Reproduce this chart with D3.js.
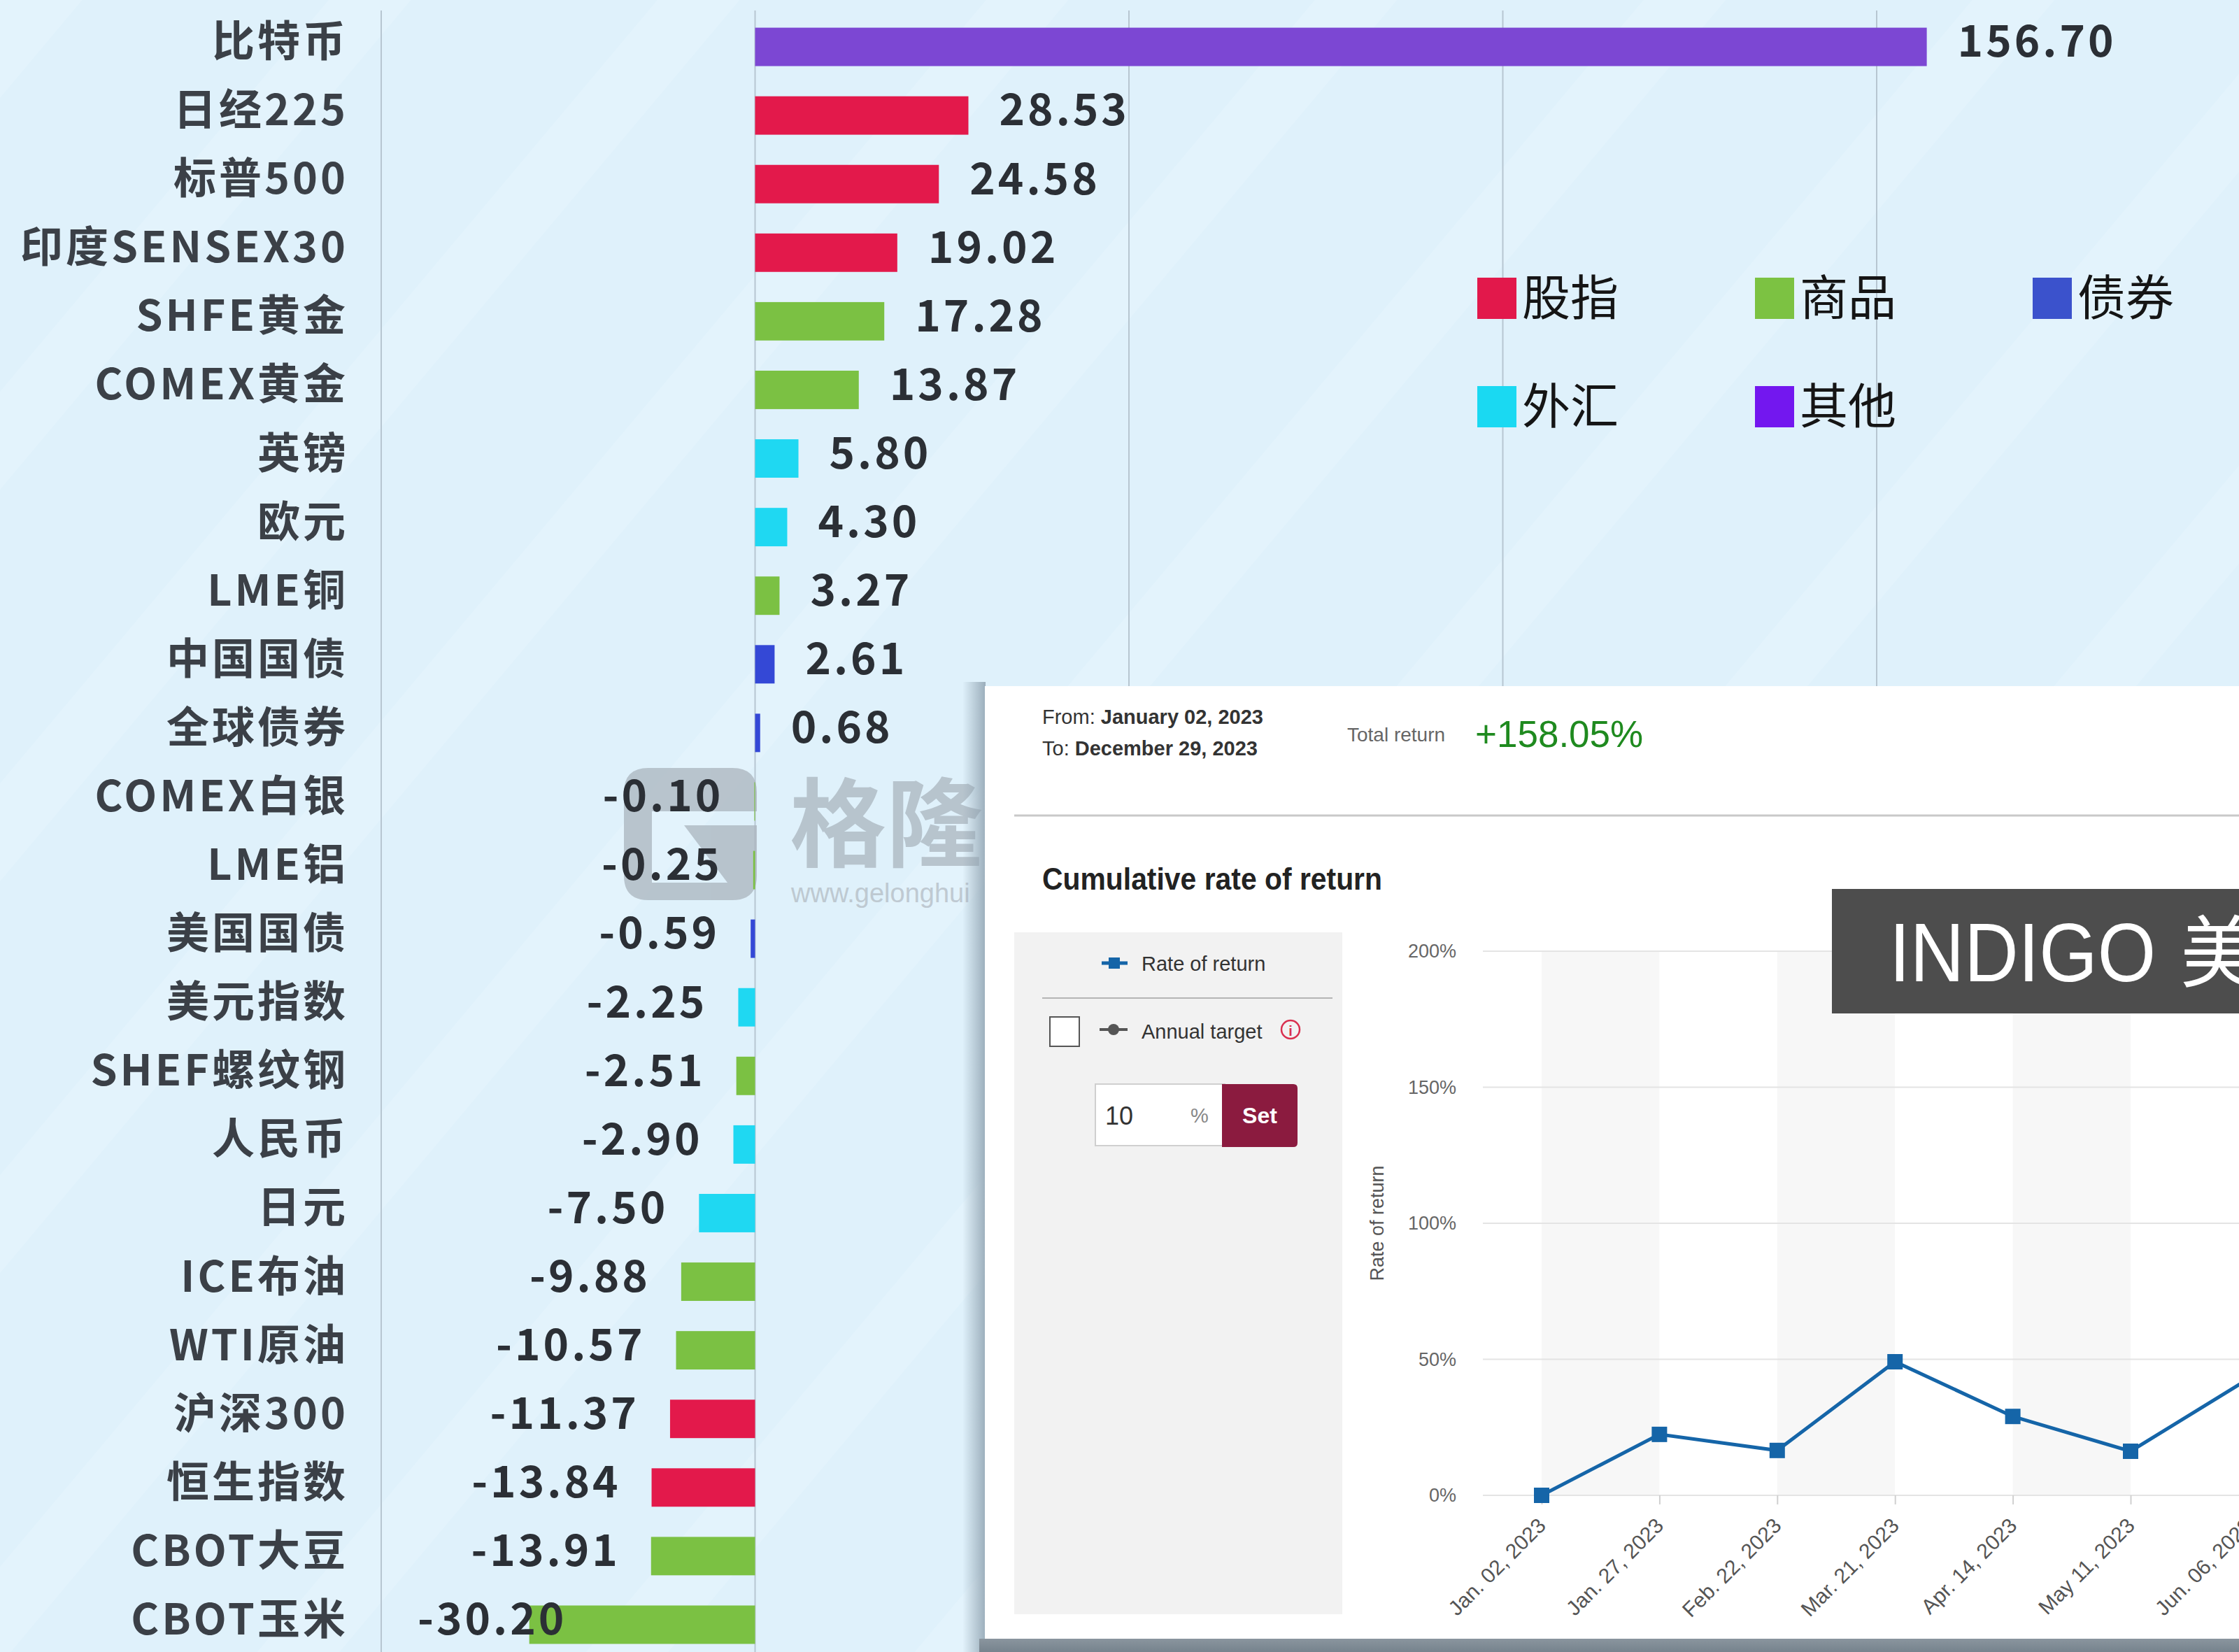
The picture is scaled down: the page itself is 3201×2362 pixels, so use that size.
<!DOCTYPE html>
<html>
<head>
<meta charset="utf-8">
<script src="https://cdn.jsdelivr.net/npm/d3@7"></script>
<style>
  body { margin: 0; background: #dff2fc; }
  svg { display: block; }
</style>
</head>
<body>
<svg width="3201" height="2362"></svg>
<script>
// bar chart data (2023 returns, %)
const names = ["比特币","日经225","标普500","印度SENSEX30","SHFE黄金","COMEX黄金","英镑","欧元","LME铜","中国国债","全球债券","COMEX白银","LME铝","美国国债","美元指数","SHEF螺纹钢","人民币","日元","ICE布油","WTI原油","沪深300","恒生指数","CBOT大豆","CBOT玉米"]
const values = [156.70,28.53,24.58,19.02,17.28,13.87,5.80,4.30,3.27,2.61,0.68,-0.10,-0.25,-0.59,-2.25,-2.51,-2.90,-7.50,-9.88,-10.57,-11.37,-13.84,-13.91,-30.20]
const kinds = ["其他","股指","股指","股指","商品","商品","外汇","外汇","商品","债券","债券","商品","商品","债券","外汇","商品","外汇","外汇","商品","商品","股指","股指","商品","商品"]
const barGrid = [-50, 0, 50, 100, 150]

const legendNames = ["股指","商品","债券","外汇","其他"]
const legendColors = ["#e2184b","#7cc242","#3b52cc","#1ad9f2","#7317ef"]
const barColors = {"股指": "#e3194b", "商品": "#7bc143", "债券": "#3448d6", "外汇": "#1fd8f2", "其他": "#7c47d3"}

// screenshot line chart data
const dates = ["Jan. 02, 2023","Jan. 27, 2023","Feb. 22, 2023","Mar. 21, 2023","Apr. 14, 2023","May 11, 2023","Jun. 06, 2023"]
const returns = [0, 22.4, 16.5, 49.1, 29.0, 16.2, 42.8]
const yTicks = [0, 50, 100, 150, 200]

const cjk = "'Noto Sans CJK SC', 'Noto Sans', sans-serif"
const sans = "'Liberation Sans', Arial, sans-serif"

let svg = d3.select("svg")
let defs = svg.append("defs")

// background with very faint diagonal streaks
let pat = defs.append("pattern").attr("id", "streaks")
  .attr("patternUnits", "userSpaceOnUse").attr("width", 360).attr("height", 360)
  .attr("patternTransform", "rotate(40)")
pat.append("rect").attr("width", 360).attr("height", 360).attr("fill", "#dff1fb")
pat.append("rect").attr("x", 0).attr("width", 90).attr("height", 360).attr("fill", "#e3f3fc")

svg.append("rect").attr("width", 3201).attr("height", 2362).attr("fill", "url(#streaks)")

let x = d3.scaleLinear().domain([-50, 150]).range([545, 2683])
let y = d3.scaleBand().domain(names).range([18, 2372]).paddingInner(0.44).paddingOuter(0.22)

svg.append("g").selectAll("line")
  .data(barGrid)
  .join("line")
  .attr("x1", d => x(d)).attr("x2", d => x(d))
  .attr("y1", 15).attr("y2", 2362)
  .attr("stroke", "#b7c6d1").attr("stroke-width", 2)

// watermark
let wm = svg.append("g").attr("opacity", 0.75)
wm.append("path")
  .attr("fill-rule", "evenodd")
  .attr("fill", "#aab4bd")
  .attr("d", "M927,1098 H1047 Q1082,1098 1082,1133 V1252 Q1082,1287 1047,1287 H927 Q892,1287 892,1252 V1133 Q892,1098 927,1098 Z " +
             "M932,1160 H1082 V1180 H978 L1040,1262 H932 Z")
wm.append("text").attr("x", 1129).attr("y", 1228)
  .attr("font-family", cjk).attr("font-size", 138).attr("font-weight", 700)
  .attr("fill", "#aab5be").text("格隆")
wm.append("text").attr("x", 1131).attr("y", 1290)
  .attr("font-family", sans).attr("font-size", 38)
  .attr("fill", "#b3bcc4").text("www.gelonghui")

// bars
svg.append("g").selectAll("rect")
  .data(values)
  .join("rect")
  .attr("x", d => x(Math.min(0, d)))
  .attr("width", d => Math.abs(x(d) - x(0)))
  .attr("y", (d, i) => y(names[i]))
  .attr("height", y.bandwidth())
  .attr("fill", (d, i) => barColors[kinds[i]])

// category labels
svg.append("g").selectAll("text")
  .data(names)
  .join("text")
  .attr("x", 498)
  .attr("y", d => y(d) + y.bandwidth() / 2 - 8)
  .attr("dy", "0.36em")
  .attr("text-anchor", "end")
  .attr("font-family", cjk).attr("font-size", 61).attr("font-weight", 700)
  .attr("letter-spacing", 4)
  .attr("fill", "#3b4047")
  .text(d => d)

// value labels
svg.append("g").selectAll("text")
  .data(values)
  .join("text")
  .attr("y", (d, i) => y(names[i]) + y.bandwidth() / 2 - 8)
  .attr("dy", "0.36em")
  .attr("font-family", cjk).attr("font-size", 62).attr("font-weight", 700)
  .attr("letter-spacing", 4)
  .attr("fill", "#2b2f35")
  .text(d => d.toFixed(2))
  .each(function (d) {
    let t = d3.select(this)
    if (d >= 0) {
      t.attr("text-anchor", "start").attr("x", x(d) + 44)
    } else {
      let w = this.getComputedTextLength()
      t.attr("text-anchor", "end").attr("x", Math.max(x(d) - 44, 597 + w))
    }
  })

// legend
let leg = svg.append("g").selectAll("g")
  .data(legendNames)
  .join("g")
  .attr("transform", (d, i) => "translate(" + (2112 + (i % 3) * 397) + "," + (426 + Math.floor(i / 3) * 155) + ")")
leg.append("rect").attr("x", 0).attr("y", -29).attr("width", 56).attr("height", 59)
  .attr("fill", (d, i) => legendColors[i])
leg.append("text").attr("x", 64).attr("y", 0).attr("dy", "0.36em")
  .attr("font-family", cjk).attr("font-size", 69)
  .attr("fill", "#151515")
  .text(d => d)

// ---------- screenshot panel ----------
let sh = defs.append("linearGradient").attr("id", "leftShadow")
sh.append("stop").attr("offset", "0%").attr("stop-color", "#8fa2b0").attr("stop-opacity", 0)
sh.append("stop").attr("offset", "100%").attr("stop-color", "#8fa2b0").attr("stop-opacity", 0.85)
let sb = defs.append("linearGradient").attr("id", "bottomShadow").attr("x1", 0).attr("x2", 0).attr("y1", 0).attr("y2", 1)
sb.append("stop").attr("offset", "0%").attr("stop-color", "#8a959e")
sb.append("stop").attr("offset", "100%").attr("stop-color", "#76838d")

svg.append("rect").attr("x", 1376).attr("y", 975).attr("width", 33).attr("height", 1387).attr("fill", "url(#leftShadow)")
svg.append("rect").attr("x", 1400).attr("y", 2343).attr("width", 1801).attr("height", 19).attr("fill", "url(#bottomShadow)")

let panel = svg.append("g")
panel.append("rect").attr("x", 1408).attr("y", 981).attr("width", 1793).attr("height", 1362).attr("fill", "#ffffff")

let from = panel.append("text").attr("x", 1490).attr("y", 1035)
  .attr("font-family", sans).attr("font-size", 29).attr("fill", "#333")
from.append("tspan").text("From: ")
from.append("tspan").attr("font-weight", 700).text("January 02, 2023")
let to = panel.append("text").attr("x", 1490).attr("y", 1080)
  .attr("font-family", sans).attr("font-size", 29).attr("fill", "#333")
to.append("tspan").text("To: ")
to.append("tspan").attr("font-weight", 700).text("December 29, 2023")

panel.append("text").attr("x", 1926).attr("y", 1060)
  .attr("font-family", sans).attr("font-size", 28).attr("fill", "#666")
  .text("Total return")
panel.append("text").attr("x", 2109).attr("y", 1068)
  .attr("font-family", sans).attr("font-size", 53).attr("fill", "#1f8a1f")
  .text("+158.05%")

panel.append("line").attr("x1", 1450).attr("x2", 3201).attr("y1", 1166).attr("y2", 1166)
  .attr("stroke", "#c9c9c9").attr("stroke-width", 3)

panel.append("text").attr("x", 1490).attr("y", 1272)
  .attr("font-family", sans).attr("font-size", 44).attr("font-weight", 700).attr("fill", "#222")
  .attr("textLength", 486).attr("lengthAdjust", "spacingAndGlyphs")
  .text("Cumulative rate of return")

// side controls
panel.append("rect").attr("x", 1450).attr("y", 1333).attr("width", 469).attr("height", 975).attr("fill", "#f2f2f2")
panel.append("line").attr("x1", 1575).attr("x2", 1612).attr("y1", 1377).attr("y2", 1377)
  .attr("stroke", "#1565a8").attr("stroke-width", 5)
panel.append("rect").attr("x", 1585).attr("y", 1369).attr("width", 16).attr("height", 16).attr("fill", "#1565a8")
panel.append("text").attr("x", 1632).attr("y", 1388)
  .attr("font-family", sans).attr("font-size", 29).attr("fill", "#333").text("Rate of return")
panel.append("line").attr("x1", 1490).attr("x2", 1905).attr("y1", 1427).attr("y2", 1427)
  .attr("stroke", "#b5b5b5").attr("stroke-width", 2)
panel.append("rect").attr("x", 1501).attr("y", 1454).attr("width", 42).attr("height", 42)
  .attr("fill", "#fff").attr("stroke", "#555").attr("stroke-width", 2)
panel.append("line").attr("x1", 1572).attr("x2", 1612).attr("y1", 1472).attr("y2", 1472)
  .attr("stroke", "#555").attr("stroke-width", 4)
panel.append("circle").attr("cx", 1592).attr("cy", 1472).attr("r", 8).attr("fill", "#555")
panel.append("text").attr("x", 1632).attr("y", 1485)
  .attr("font-family", sans).attr("font-size", 29).attr("fill", "#333").text("Annual target")
panel.append("circle").attr("cx", 1845).attr("cy", 1472).attr("r", 13)
  .attr("fill", "none").attr("stroke", "#d9304f").attr("stroke-width", 2.5)
panel.append("text").attr("x", 1845).attr("y", 1481).attr("text-anchor", "middle")
  .attr("font-family", sans).attr("font-size", 20).attr("font-weight", 700).attr("fill", "#d9304f").text("i")

panel.append("rect").attr("x", 1566).attr("y", 1550).attr("width", 185).attr("height", 88)
  .attr("fill", "#fff").attr("stroke", "#cfcfcf").attr("stroke-width", 2)
panel.append("text").attr("x", 1580).attr("y", 1608)
  .attr("font-family", sans).attr("font-size", 36).attr("fill", "#333").text("10")
panel.append("text").attr("x", 1702).attr("y", 1605)
  .attr("font-family", sans).attr("font-size", 29).attr("fill", "#888").text("%")
panel.append("path")
  .attr("d", "M1747,1550 H1849 Q1855,1550 1855,1556 V1634 Q1855,1640 1849,1640 H1747 Z")
  .attr("fill", "#8b1b3f")
panel.append("text").attr("x", 1801).attr("y", 1606).attr("text-anchor", "middle")
  .attr("font-family", sans).attr("font-size", 32).attr("font-weight", 700).attr("fill", "#fff").text("Set")

// line chart
let lx = d3.scalePoint().domain(dates).range([2204, 2204 + 168.4 * 6])
let ly = d3.scaleLinear().domain([0, 200]).range([2138, 1360])
let step = lx.step()

panel.append("g").selectAll("rect")
  .data(dates.filter((d, i) => i % 2 == 0))
  .join("rect")
  .attr("x", d => lx(d)).attr("width", step)
  .attr("y", ly(200)).attr("height", ly(0) - ly(200))
  .attr("fill", "#f7f7f7")

panel.append("g").selectAll("line")
  .data(yTicks)
  .join("line")
  .attr("x1", 2120).attr("x2", 3201)
  .attr("y1", d => ly(d)).attr("y2", d => ly(d))
  .attr("stroke", "#e4e4e4").attr("stroke-width", 2)

let yAxis = panel.append("g").attr("transform", "translate(2120,0)")
  .call(d3.axisLeft(ly).tickValues(yTicks).tickFormat(d => d + "%").tickSize(0).tickPadding(38))
yAxis.select(".domain").remove()
yAxis.selectAll("text").attr("font-family", sans).attr("font-size", 27).attr("fill", "#666")

let xAxis = panel.append("g").attr("transform", "translate(0," + ly(0) + ")")
  .call(d3.axisBottom(lx).tickSize(13).tickPadding(0))
xAxis.select(".domain").remove()
xAxis.selectAll("line").attr("stroke", "#d0d0d0").attr("stroke-width", 2)
xAxis.selectAll("text")
  .attr("font-family", sans).attr("font-size", 30).attr("fill", "#555")
  .attr("text-anchor", "end")
  .attr("dy", null)
  .attr("transform", "translate(-2,36) rotate(-45)")

panel.append("text")
  .attr("transform", "translate(1978,1749) rotate(-90)")
  .attr("text-anchor", "middle")
  .attr("font-family", sans).attr("font-size", 27).attr("fill", "#555")
  .text("Rate of return")

panel.append("path")
  .datum(returns)
  .attr("d", d3.line().x((d, i) => lx(dates[i])).y(d => ly(d)))
  .attr("fill", "none").attr("stroke", "#1565a8").attr("stroke-width", 5)

panel.append("g").selectAll("rect")
  .data(returns)
  .join("rect")
  .attr("x", (d, i) => lx(dates[i]) - 11).attr("y", d => ly(d) - 11)
  .attr("width", 22).attr("height", 22)
  .attr("fill", "#1565a8")

// caption banner
svg.append("rect").attr("x", 2619).attr("y", 1271).attr("width", 582).attr("height", 178).attr("fill", "#4d4d4d")
svg.append("text").attr("x", 2701).attr("y", 1403)
  .attr("font-family", sans).attr("font-size", 118).attr("fill", "#fff")
  .attr("textLength", 381).attr("lengthAdjust", "spacingAndGlyphs")
  .text("INDIGO")
svg.append("text").attr("x", 3117).attr("y", 1403)
  .attr("font-family", cjk).attr("font-size", 112).attr("fill", "#fff")
  .text("美元")
</script>
</body>
</html>
